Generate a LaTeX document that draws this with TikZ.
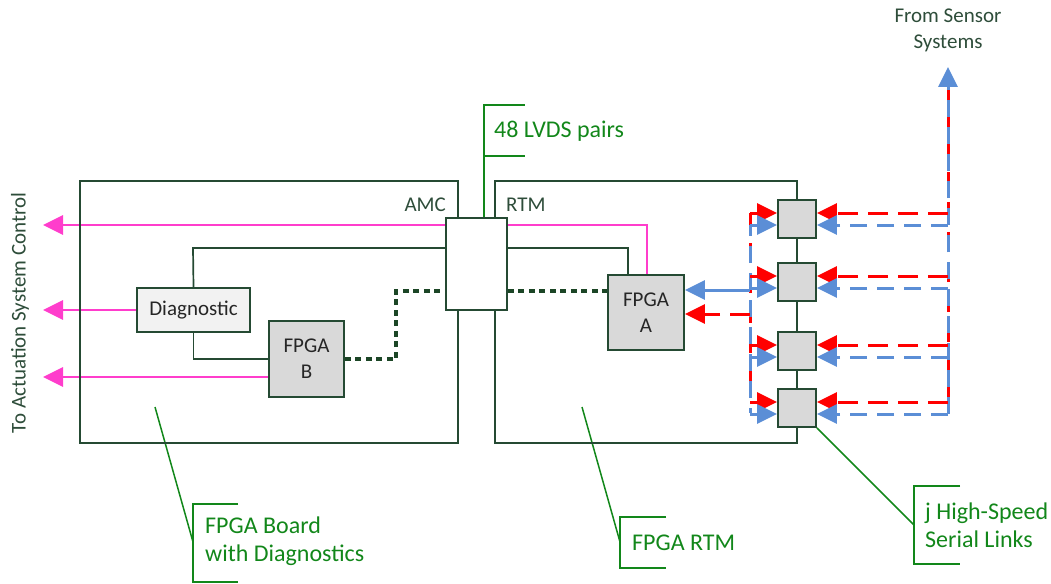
\documentclass[tikz,border=0pt]{standalone}
\usepackage{fontspec}
\setmainfont{Carlito}
\usetikzlibrary{arrows.meta,backgrounds}
\definecolor{boxline}{HTML}{254A33}
\definecolor{txtgreen}{HTML}{2E4D3A}
\definecolor{annot}{HTML}{12871A}
\definecolor{pinkline}{HTML}{FF3DCC}
\definecolor{blueline}{HTML}{5B8ED6}
\definecolor{redline}{HTML}{FF0000}
\definecolor{dotgreen}{HTML}{1C4626}
\definecolor{chipfill}{HTML}{D9D9D9}
\definecolor{diagfill}{HTML}{F2F2F2}
\begin{document}
\begin{tikzpicture}[x=1pt,y=-1pt,
  font=\fontsize{21}{26}\selectfont,
  board/.style={draw=boxline, line width=1.8pt, inner sep=0pt},
  chip/.style={draw=boxline, line width=1.8pt, fill=chipfill, inner sep=0pt, align=center, text=black!85},
  diagbox/.style={draw=boxline, line width=1.8pt, fill=diagfill, inner sep=0pt, text=black!85},
  connbox/.style={draw=boxline, line width=1.8pt, fill=white, inner sep=0pt},
  linkbox/.style={draw=boxline, line width=1.8pt, fill=chipfill, inner sep=0pt, minimum width=38pt, minimum height=38pt},
  lbl/.style={text=txtgreen, inner sep=0pt},
  annottext/.style={text=annot, inner sep=0pt, align=left, font=\fontsize{24}{28}\selectfont},
  annotline/.style={draw=annot, line width=1.5pt},
  wire/.style={draw=boxline, line width=1.7pt},
  tipA/.style={-{Triangle[length=20pt,width=19pt]}},
  pinkarrow/.style={draw=pinkline, line width=2.8pt, tipA},
  dotline/.style={draw=dotgreen, line width=3.8pt, dash pattern=on 6pt off 4.5pt},
  reddash/.style={draw=redline, line width=3pt, dash pattern=on 20pt off 10pt},
  bluedash/.style={draw=blueline, line width=3pt, dash pattern=on 17pt off 10pt},
]
\useasboundingbox (0,0) rectangle (1051,583);

% boards
\node[board, minimum width=378pt, minimum height=262pt] (amc) at (269,312) {};
\node[board, minimum width=302pt, minimum height=262pt] (rtm) at (646,312) {};
\node[lbl, anchor=east] (amclbl) at (446,205) {AMC};
\node[lbl, anchor=west] (rtmlbl) at (506,205) {RTM};

% parts
\node[connbox, minimum width=61pt, minimum height=92pt] (conn) at (476.5,264) {};
\node[chip, minimum width=76pt, minimum height=75pt] (fpgaA) at (646,312.5) {FPGA\\A};
\node[chip, minimum width=75pt, minimum height=76pt] (fpgaB) at (306.5,359) {FPGA\\B};
\node[diagbox, minimum width=113pt, minimum height=44pt] (diag) at (193.5,310) {Diagnostic};
\node[linkbox] (s1) at (797,219) {};
\node[linkbox] (s2) at (797,282) {};
\node[linkbox] (s3) at (797,351) {};
\node[linkbox] (s4) at (797,408) {};

% outside labels
\node[lbl, rotate=90] (act) at (20,313) {To Actuation System Control};
\node[lbl, align=center] (sensor) at (948,30) {From Sensor\\Systems};

% annotations
\node[annottext, anchor=west] (lvds) at (494,131) {48 LVDS pairs};
\node[annottext, anchor=west] (boardlbl) at (205,541.5) {FPGA Board\\with Diagnostics};
\node[annottext, anchor=west] (rtmnote) at (632,543) {FPGA RTM};
\node[annottext, anchor=west] (hsl) at (925,525.5) {j High-Speed\\Serial Links};

% coordinates
\coordinate (act1) at (43,225);
\coordinate (act2) at (43,310);
\coordinate (act3) at (43,377);
\coordinate (j1) at (193,248);
\coordinate (lv1) at (484,105);
\coordinate (lv2) at (525,105);
\coordinate (lv3) at (484,156);
\coordinate (lv4) at (525,156);
\coordinate (bd0) at (155,407);
\coordinate (bd1) at (193,504);
\coordinate (bd2) at (238,504);
\coordinate (bd3) at (193,582);
\coordinate (bd4) at (238,582);
\coordinate (bdm) at (193,542);
\coordinate (rt0) at (582,407);
\coordinate (rt1) at (620,517);
\coordinate (rt2) at (666,517);
\coordinate (rt3) at (620,568);
\coordinate (rt4) at (666,568);
\coordinate (rtm0) at (620,542);
\coordinate (hs1) at (914,486);
\coordinate (hs2) at (960,486);
\coordinate (hs3) at (914,564);
\coordinate (hs4) at (960,564);
\coordinate (hsm) at (914,525);
\coordinate (senstip) at (948,67);
\coordinate (redtop) at (948,88);
\coordinate (lred1) at (750,213);
\coordinate (lred4) at (750,398);
\coordinate (lblue1) at (750,225);
\coordinate (lblue4) at (750,413);
\coordinate (lredA) at (750,314);
\coordinate (lblueA) at (750,290);
\foreach \i/\yc in {1/219,2/282,3/351,4/408}{
  \coordinate (rr\i) at (948,\yc-6);
  \coordinate (rb\i) at (948,\yc+6);
  \coordinate (lr\i) at (750,\yc-6);
  \coordinate (lb\i) at (750,\yc+6);
}

\begin{scope}[on background layer]
  % pink control outputs
  \draw[pinkarrow] ([xshift=1pt]fpgaA.north) |- (act1);
  \draw[pinkarrow] (diag.west) -- (act2);
  \draw[pinkarrow] ([yshift=-18pt]fpgaB.west) -- (act3);
  % wires
  \draw[wire] ([xshift=-18pt]fpgaA.north) |- (j1) -- (diag.north);
  \draw[wire] (diag.south) |- (fpgaB.west);
  % dotted LVDS
  \draw[dotline] (fpgaB.east) -- ++(51,0) |- ([yshift=-27pt]conn.west);
  \draw[dotline] ([yshift=-27pt]conn.east) -- ([yshift=-27pt]conn.east -| fpgaA.west);
  % annotations
  \draw[annotline] ([xshift=7.5pt]conn.north) -- (lv1) -- (lv2);
  \draw[annotline] (lv3) -- (lv4);
  \draw[annotline] (bd0) -- (bdm);
  \draw[annotline] (bd2) -- (bd1) -- (bd3) -- (bd4);
  \draw[annotline] (rt0) -- (rtm0);
  \draw[annotline] (rt2) -- (rt1) -- (rt3) -- (rt4);
  \draw[annotline] (s4.south east) -- (hsm);
  \draw[annotline] (hs2) -- (hs1) -- (hs3) -- (hs4);
  % serial links: right side
  \draw[reddash] (rr4) -- (redtop);
  \draw[bluedash, tipA] (rb4) -- (senstip);
  \foreach \i in {1,2,3,4}{
    \draw[reddash, tipA] (rr\i) -- ([yshift=6pt]s\i.east);
    \draw[bluedash, tipA] (rb\i) -- ([yshift=-6pt]s\i.east);
  }
  % serial links: left side
  \draw[reddash] (lred1) -- (lred4);
  \draw[bluedash, dash phase=6pt] (lblue1) -- (lblue4);
  \foreach \i in {1,2,3,4}{
    \draw[reddash, tipA] (lr\i) -- ([yshift=6pt]s\i.west);
    \draw[bluedash, tipA] (lb\i) -- ([yshift=-6pt]s\i.west);
  }
  \draw[reddash, tipA] (lredA) -- (lredA -| fpgaA.east);
  \draw[draw=blueline, line width=3pt, tipA] (lblueA) -- (lblueA -| fpgaA.east);
\end{scope}
\end{tikzpicture}
\end{document}
